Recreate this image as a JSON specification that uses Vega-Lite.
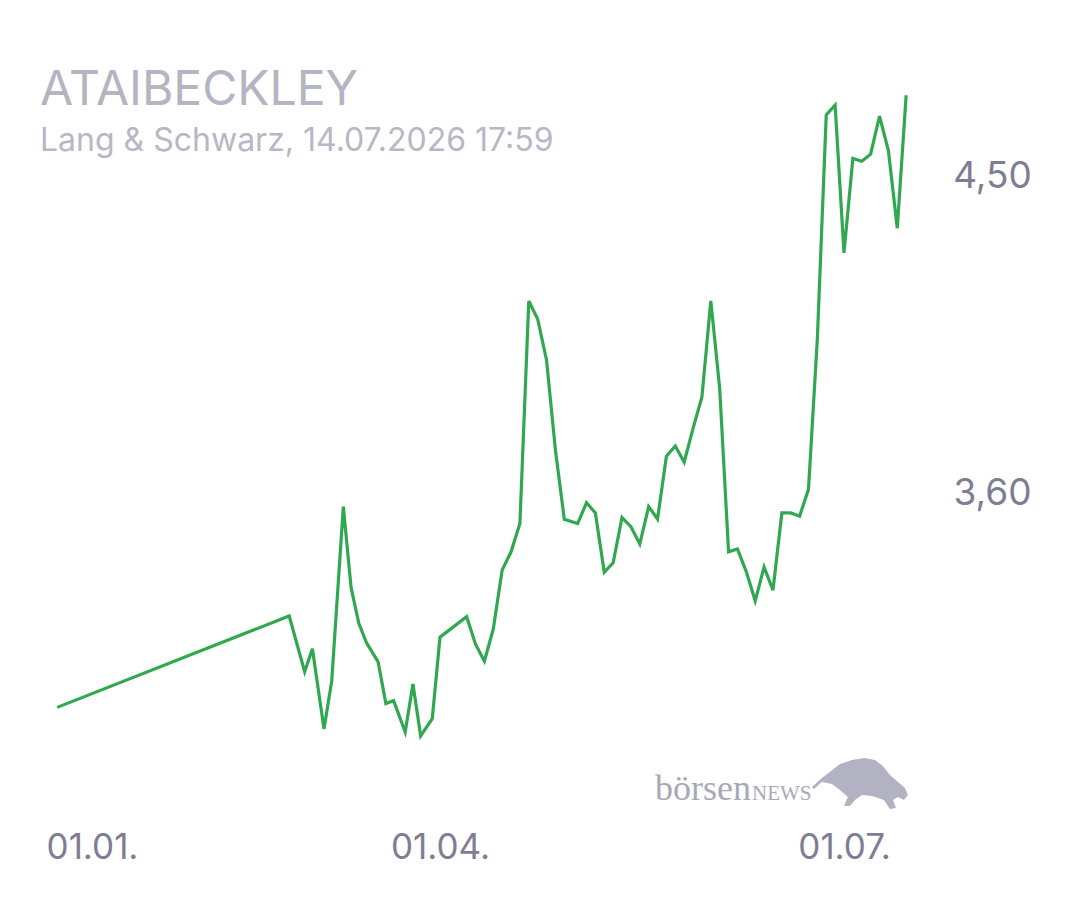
{
  "$schema": "https://vega.github.io/schema/vega-lite/v6.json",
  "width": 1080,
  "height": 900,
  "autosize": "none",
  "padding": 0,
  "background": "white",
  "config": {"view": {"stroke": null}},
  "title": {
    "text": "ATAIBECKLEY",
    "subtitle": "Lang & Schwarz, 14.07.2026 17:59",
    "anchor": "start",
    "frame": "group",
    "orient": "top",
    "offset": -157,
    "dx": 40,
    "font": "Inter",
    "fontSize": 48,
    "fontWeight": "normal",
    "color": "#b5b4c3",
    "subtitleFont": "Inter",
    "subtitleFontSize": 32,
    "subtitleColor": "#b8b7c5",
    "subtitlePadding": 11
  },
  "layer": [
    {
      "data": {
        "values": [
          {"date": "2025-12-23", "price": 2.995},
          {"date": "2026-02-21", "price": 3.254},
          {"date": "2026-02-25", "price": 3.096},
          {"date": "2026-02-27", "price": 3.161},
          {"date": "2026-03-02", "price": 2.934},
          {"date": "2026-03-04", "price": 3.070},
          {"date": "2026-03-07", "price": 3.564},
          {"date": "2026-03-09", "price": 3.335},
          {"date": "2026-03-11", "price": 3.233},
          {"date": "2026-03-13", "price": 3.178},
          {"date": "2026-03-16", "price": 3.124},
          {"date": "2026-03-18", "price": 3.006},
          {"date": "2026-03-20", "price": 3.014},
          {"date": "2026-03-23", "price": 2.925},
          {"date": "2026-03-25", "price": 3.061},
          {"date": "2026-03-27", "price": 2.914},
          {"date": "2026-03-30", "price": 2.963},
          {"date": "2026-04-01", "price": 3.194},
          {"date": "2026-04-07", "price": 3.252},
          {"date": "2026-04-09", "price": 3.174},
          {"date": "2026-04-11", "price": 3.126},
          {"date": "2026-04-13", "price": 3.217},
          {"date": "2026-04-15", "price": 3.384},
          {"date": "2026-04-17", "price": 3.436},
          {"date": "2026-04-19", "price": 3.516},
          {"date": "2026-04-21", "price": 4.147},
          {"date": "2026-04-23", "price": 4.096},
          {"date": "2026-04-25", "price": 3.979},
          {"date": "2026-04-27", "price": 3.724},
          {"date": "2026-04-29", "price": 3.528},
          {"date": "2026-05-02", "price": 3.516},
          {"date": "2026-05-04", "price": 3.575},
          {"date": "2026-05-06", "price": 3.546},
          {"date": "2026-05-08", "price": 3.378},
          {"date": "2026-05-10", "price": 3.405},
          {"date": "2026-05-12", "price": 3.533},
          {"date": "2026-05-14", "price": 3.507},
          {"date": "2026-05-16", "price": 3.458},
          {"date": "2026-05-18", "price": 3.564},
          {"date": "2026-05-20", "price": 3.529},
          {"date": "2026-05-22", "price": 3.707},
          {"date": "2026-05-24", "price": 3.736},
          {"date": "2026-05-26", "price": 3.690},
          {"date": "2026-05-28", "price": 3.786},
          {"date": "2026-05-30", "price": 3.875},
          {"date": "2026-06-01", "price": 4.147},
          {"date": "2026-06-03", "price": 3.899},
          {"date": "2026-06-05", "price": 3.436},
          {"date": "2026-06-07", "price": 3.444},
          {"date": "2026-06-09", "price": 3.379},
          {"date": "2026-06-11", "price": 3.297},
          {"date": "2026-06-13", "price": 3.393},
          {"date": "2026-06-15", "price": 3.327},
          {"date": "2026-06-17", "price": 3.546},
          {"date": "2026-06-19", "price": 3.546},
          {"date": "2026-06-21", "price": 3.537},
          {"date": "2026-06-23", "price": 3.613},
          {"date": "2026-06-25", "price": 4.041},
          {"date": "2026-06-27", "price": 4.674},
          {"date": "2026-06-29", "price": 4.702},
          {"date": "2026-07-01", "price": 4.283},
          {"date": "2026-07-03", "price": 4.551},
          {"date": "2026-07-05", "price": 4.543},
          {"date": "2026-07-07", "price": 4.563},
          {"date": "2026-07-09", "price": 4.671},
          {"date": "2026-07-11", "price": 4.573},
          {"date": "2026-07-13", "price": 4.353},
          {"date": "2026-07-15", "price": 4.730}
        ],
        "format": {"parse": {"date": "date"}}
      },
      "mark": {"type": "line", "color": "#30a850", "strokeWidth": 3.2, "strokeJoin": "miter"},
      "encoding": {
        "x": {
          "field": "date",
          "type": "quantitative",
          "scale": {
            "type": "linear",
            "domain": [1767225600000, 1775001600000, 1782864000000],
            "range": [92, 440, 844],
            "nice": false,
            "zero": false
          },
          "axis": {
            "orient": "bottom",
            "title": null,
            "offset": -70,
            "domain": false,
            "ticks": false,
            "tickSize": 0,
            "grid": false,
            "values": [1767225600000, 1775001600000, 1782864000000],
            "labelExpr": "utcFormat(datum.value, '%d.%m.')",
            "labelFont": "Inter",
            "labelFontSize": 35,
            "labelColor": "#7e7d93",
            "labelAlign": "center",
            "labelBaseline": "middle",
            "labelPadding": 17,
            "labelFlush": false,
            "labelOverlap": false
          }
        },
        "y": {
          "field": "price",
          "type": "quantitative",
          "scale": {"domain": [2.449, 5.0], "nice": false, "zero": false},
          "axis": {
            "orient": "right",
            "title": null,
            "offset": -88,
            "domain": false,
            "ticks": false,
            "tickSize": 0,
            "grid": false,
            "values": [3.6, 4.5],
            "labelExpr": "replace(format(datum.value, '.2f'), '.', ',')",
            "labelFont": "Inter",
            "labelFontSize": 37,
            "labelColor": "#7e7d93",
            "labelAlign": "center",
            "labelBaseline": "middle",
            "labelPadding": 0,
            "labelFlush": false,
            "labelOverlap": false
          }
        }
      }
    },
    {
      "data": {"values": [{"t": "börsen"}]},
      "mark": {"type": "text", "font": "Liberation Serif", "fontSize": 36, "color": "#a9a8b8", "align": "left", "baseline": "alphabetic"},
      "encoding": {
        "x": {"datum": 1779184800000, "type": "quantitative", "scale": {"type": "linear", "domain": [1767225600000, 1775001600000, 1782864000000], "range": [92, 440, 844], "nice": false, "zero": false}},
        "y": {"datum": 2.732, "type": "quantitative", "scale": {"domain": [2.449, 5.0], "nice": false, "zero": false}},
        "text": {"field": "t"}
      }
    },
    {
      "data": {"values": [{"t": "NEWS"}]},
      "mark": {"type": "text", "font": "Liberation Serif", "fontSize": 21, "color": "#a9a8b8", "align": "left", "baseline": "alphabetic"},
      "encoding": {
        "x": {"datum": 1781074000000, "type": "quantitative", "scale": {"type": "linear", "domain": [1767225600000, 1775001600000, 1782864000000], "range": [92, 440, 844], "nice": false, "zero": false}},
        "y": {"datum": 2.732, "type": "quantitative", "scale": {"domain": [2.449, 5.0], "nice": false, "zero": false}},
        "text": {"field": "t"}
      }
    },
    {
      "data": {"values": [{"t": "bull"}]},
      "mark": {
        "type": "point",
        "filled": true,
        "opacity": 1,
        "color": "#b3b2c2",
        "size": 9216,
        "shape": "M-1,0.073 L-0.792,-0.115 L-0.625,-0.24 L-0.417,-0.406 L-0.167,-0.49 L0.104,-0.531 L0.313,-0.49 L0.479,-0.365 L0.625,-0.177 L0.792,-0.031 L0.938,0.094 L1,0.24 L0.917,0.344 L0.792,0.281 L0.688,0.344 L0.75,0.51 L0.625,0.531 L0.5,0.344 L0.25,0.26 L0.042,0.24 L-0.104,0.344 L-0.208,0.469 L-0.333,0.469 L-0.25,0.281 L-0.417,0.135 L-0.583,0.01 L-0.792,-0.031 L-0.958,0.115 Z"
      },
      "encoding": {
        "x": {"datum": 1783173600000, "type": "quantitative", "scale": {"type": "linear", "domain": [1767225600000, 1775001600000, 1782864000000], "range": [92, 440, 844], "nice": false, "zero": false}},
        "y": {"datum": 2.779, "type": "quantitative", "scale": {"domain": [2.449, 5.0], "nice": false, "zero": false}}
      }
    }
  ]
}
